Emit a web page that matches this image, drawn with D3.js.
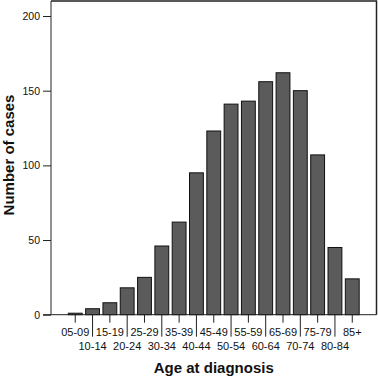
<!DOCTYPE html>
<html>
<head>
<meta charset="utf-8">
<script src="https://cdn.jsdelivr.net/npm/d3@7"></script>
<style>
  body { margin: 0; background: #fff; }
  text { font-family: "Liberation Sans", Arial, sans-serif; fill: #111; }
</style>
</head>
<body>
<div id="chart-area"></div>
<script>
// DATA
// ****

let ageGroups = ["05-09", "10-14", "15-19", "20-24", "25-29", "30-34", "35-39", "40-44",
  "45-49", "50-54", "55-59", "60-64", "65-69", "70-74", "75-79", "80-84", "85+"]
let cases = [1, 4, 8, 18, 25, 46, 62, 95, 123, 141, 143, 156, 162, 150, 107, 45, 24]
let yTicks = [0, 50, 100, 150, 200]

// MARGINS & GROUPS
// ****************

let width = 378
let height = 377
let plot = {left: 51, right: 376.5, top: 1, bottom: 314.7}

let svg = d3.select("#chart-area")
  .append("svg")
    .attr("width", width)
    .attr("height", height)

let x = d3.scaleBand().domain(ageGroups).range([plot.left, plot.right])
  .paddingInner(0.2).paddingOuter(1.0)
let y = d3.scaleLinear().domain([0, 200]).range([plot.bottom, 16])

// FRAME (top + right)
svg.append("path")
  .attr("d", "M" + plot.left + "," + plot.top + "H" + plot.right + "V" + plot.bottom)
  .attr("fill", "none")
  .attr("stroke", "#222")
  .attr("stroke-width", 1.5)

// BARS
svg.selectAll("rect.bar").data(cases)
  .enter()
  .append("rect")
    .attr("class", "bar")
    .attr("x", (d, i) => x(ageGroups[i]))
    .attr("y", d => y(d))
    .attr("width", x.bandwidth())
    .attr("height", d => y(0) - y(d))
    .attr("fill", "#5b5b5b")
    .attr("stroke", "#111")
    .attr("stroke-width", 1)

// LEFT AXIS
let leftAxis = d3.axisLeft(y).tickValues(yTicks).tickSize(8).tickPadding(3)
let gl = svg.append("g")
  .attr("transform", "translate(" + plot.left + ", 0)")
  .call(leftAxis)
gl.select(".domain").attr("d", "M0," + plot.top + "V" + plot.bottom).attr("stroke", "#222")
gl.selectAll(".tick line").attr("stroke", "#222")
gl.selectAll("text")
  .attr("font-size", "10.5px")
  .style("font-family", "'Liberation Sans', Arial, sans-serif")
  .attr("fill", "#111")

// BOTTOM AXIS
let bottomAxis = d3.axisBottom(x).tickSize(0)
let gb = svg.append("g")
  .attr("transform", "translate(0, " + plot.bottom + ")")
  .call(bottomAxis)
gb.select(".domain").attr("d", "M" + (plot.left - 8) + ",0H" + plot.right).attr("stroke", "#222")
gb.selectAll(".tick line")
  .attr("stroke", "#222")
  .attr("y2", (d, i) => i % 2 === 0 ? 8 : 22)
gb.selectAll(".tick text")
  .attr("font-size", "11px")
  .style("font-family", "'Liberation Sans', Arial, sans-serif")
  .attr("fill", "#111")
  .attr("dy", null)
  .attr("y", (d, i) => i % 2 === 0 ? 21 : 35)

// LABELS
// ******

svg.append("text")
  .attr("x", -155)
  .attr("y", 13.5)
  .attr("font-size", "15px")
  .attr("font-weight", "bold")
  .attr("text-anchor", "middle")
  .attr("transform", "rotate(-90)")
  .text("Number of cases")

svg.append("text")
  .attr("x", (plot.left + plot.right) / 2 + 0)
  .attr("y", 373)
  .attr("font-size", "15px")
  .attr("font-weight", "bold")
  .attr("text-anchor", "middle")
  .text("Age at diagnosis")
</script>
</body>
</html>
